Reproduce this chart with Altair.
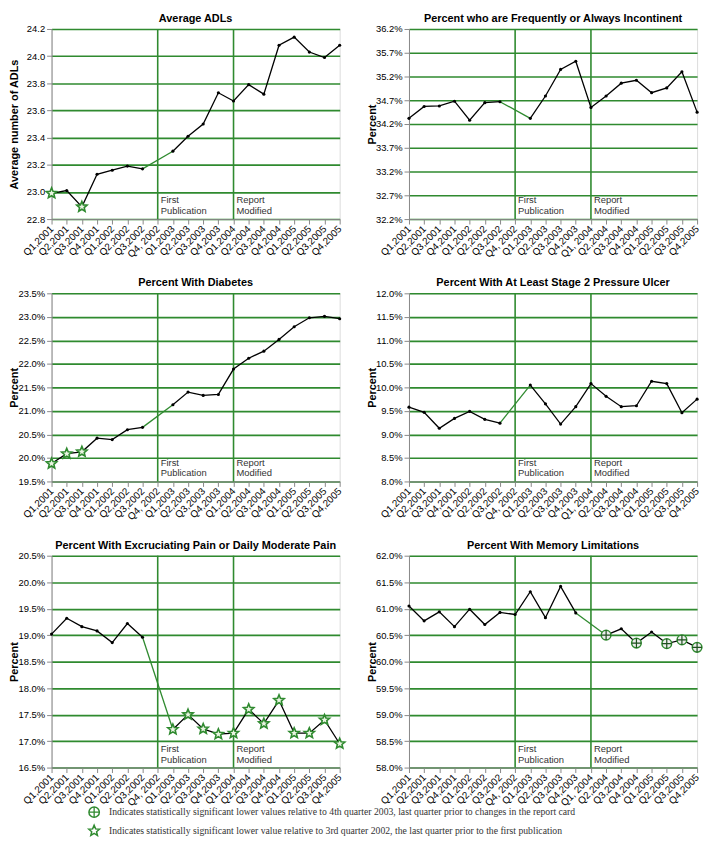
import altair as alt
import pandas as pd

# ---------------- data ----------------
QUARTERS = ["Q1,2001", "Q2,2001", "Q3,2001", "Q4,2001", "Q1,2002", "Q2,2002",
            "Q3,2002", "Q4, 2002", "Q1,2003", "Q2,2003", "Q3,2003", "Q4,2003",
            "Q1,2004", "Q2,2004", "Q3,2004", "Q4,2004", "Q1,2005", "Q2,2005",
            "Q3,2005", "Q4,2005"]
QUARTERS_SP = QUARTERS[:12] + ["Q1, 2004"] + QUARTERS[13:]

ADL = [22.99, 23.01, 22.89, 23.13, 23.16, 23.19, 23.17, None, 23.30, 23.41,
       23.50, 23.73, 23.67, 23.79, 23.72, 24.08, 24.14, 24.03, 23.99, 24.08]
ADL_STARS = [0, 2]

INCONT = [34.32, 34.57, 34.58, 34.68, 34.28, 34.65, 34.67, None, 34.32, 34.79,
          35.35, 35.52, 34.55, 34.79, 35.06, 35.12, 34.86, 34.96, 35.30, 34.45]

DIAB = [19.88, 20.09, 20.13, 20.42, 20.39, 20.60, 20.65, None, 21.13, 21.40,
        21.33, 21.35, 21.89, 22.12, 22.27, 22.52, 22.79, 22.98, 23.01, 22.96]
DIAB_STARS = [0, 1, 2]

ULCER = [9.58, 9.47, 9.13, 9.34, 9.49, 9.32, 9.24, None, 10.05, 9.65,
         9.22, 9.59, 10.08, 9.81, 9.59, 9.61, 10.13, 10.08, 9.46, 9.75]

PAIN = [19.02, 19.32, 19.16, 19.08, 18.86, 19.22, 18.96, None, 17.22, 17.50,
        17.23, 17.13, 17.15, 17.60, 17.33, 17.77, 17.15, 17.15, 17.40, 16.95]
PAIN_STARS = [8, 9, 10, 11, 12, 13, 14, 15, 16, 17, 18, 19]

MEMORY = [61.05, 60.77, 60.94, 60.66, 60.99, 60.70, 60.93, 60.89, 61.32, 60.83,
          61.42, 60.92, None, 60.50, 60.62, 60.35, 60.56, 60.34, 60.41, 60.27]
MEMORY_PLUS = [13, 15, 17, 18, 19]

TICKS_ADL = [22.8, 23.0, 23.2, 23.4, 23.6, 23.8, 24.0, 24.2]
TICKS_INCONT = [32.2, 32.7, 33.2, 33.7, 34.2, 34.7, 35.2, 35.7, 36.2]
TICKS_DIAB = [19.5, 20.0, 20.5, 21.0, 21.5, 22.0, 22.5, 23.0, 23.5]
TICKS_ULCER = [8.0, 8.5, 9.0, 9.5, 10.0, 10.5, 11.0, 11.5, 12.0]
TICKS_PAIN = [16.5, 17.0, 17.5, 18.0, 18.5, 19.0, 19.5, 20.0, 20.5]
TICKS_MEMORY = [58.0, 58.5, 59.0, 59.5, 60.0, 60.5, 61.0, 61.5, 62.0]

LEGEND_TEXT = [
    "Indicates statistically significant lower values relative to 4th quarter 2003, last quarter prior to changes in the report card",
    "Indicates statistically significant lower value relative to 3rd quarter 2002, the last quarter prior to the first publication",
]

# ---------------- style ----------------
GREEN = "#2f8a2f"
STAR = ("M0,-1L0.265,-0.364L0.951,-0.309L0.428,0.139L0.588,0.809L0,0.45"
        "L-0.588,0.809L-0.428,0.139L-0.951,-0.309L-0.265,-0.364Z")
PLUS = "M-1,0L1,0M0,-1L0,1"
W = 291
FONT = "Liberation Sans"


def panel(title, values, labels, ticks, ytitle, pct, height, stars=(), pluses=(),
          legend=False):
    seg, s = [], 0
    for v in values:
        if v is None:
            s += 1
        seg.append(s)
    df = pd.DataFrame({"q": labels, "v": values, "seg": seg})
    gap = values.index(None)
    bridge = df.iloc[[gap - 1, gap + 1]]

    if pct:
        lab = "format(datum.value, '.1f') + '%'"
    else:
        lab = "format(datum.value, '.1f')"

    xenc = alt.X("q:O", sort=labels,
                 scale=alt.Scale(domain=labels, type="point", padding=0),
                 axis=alt.Axis(title=None, labelAngle=-45, grid=False,
                               labelFontSize=10, labelPadding=3,
                               labelAlign="right", labelBaseline="middle",
                               labelOverlap=False))
    yenc = alt.Y("v:Q",
                 scale=alt.Scale(domain=[ticks[0], ticks[-1]], nice=False, zero=False),
                 axis=alt.Axis(values=ticks, labelExpr=lab, title=ytitle,
                               grid=True, gridColor=GREEN, gridWidth=1.6,
                               labelFontSize=9.5, titlePadding=2,
                               labelOverlap=False, minExtent=30, maxExtent=30))

    ann = pd.DataFrame({"q": [labels[7], labels[12]],
                        "t": ["First\nPublication", "Report\nModified"],
                        "v": [ticks[0], ticks[0]]})

    rules = alt.Chart(ann).mark_rule(color=GREEN, strokeWidth=1.6).encode(x=xenc)
    base = alt.Chart(df.dropna(subset=["v"]))
    line = base.mark_line(color="black", strokeWidth=1.3).encode(
        x=xenc, y=yenc, detail="seg:N")
    green = alt.Chart(bridge).mark_line(color=GREEN, strokeWidth=1.3).encode(
        x=xenc, y=yenc)
    dots = base.mark_point(filled=True, color="black", size=10, opacity=1).encode(
        x=xenc, y=yenc)
    texts = alt.Chart(ann).mark_text(align="left", baseline="bottom", dx=3, dy=-14,
                                     lineBreak="\n", font=FONT, fontSize=9.5,
                                     color="#333333", lineHeight=11).encode(
        x=xenc, y=yenc, text="t:N")

    layers = [rules, line, green, dots, texts]

    if stars:
        sdf = df.iloc[list(stars)]
        layers.append(alt.Chart(sdf).mark_point(
            shape=STAR, filled=True, color="#eaf4e2", stroke=GREEN,
            strokeWidth=1.6, size=120, opacity=1).encode(x=xenc, y=yenc))
    if pluses:
        pdf = df.iloc[list(pluses)]
        layers.append(alt.Chart(pdf).mark_point(
            shape="circle", filled=True, color="#ececec", stroke=GREEN,
            strokeWidth=1.5, size=95, opacity=1).encode(x=xenc, y=yenc))
        layers.append(alt.Chart(pdf).mark_point(
            shape=PLUS, filled=False, stroke="#1d4f1d",
            strokeWidth=1.2, size=95, opacity=1).encode(x=xenc, y=yenc))

    if legend:
        # footnote legend placed below this panel
        l0 = pd.DataFrame({"t": [LEGEND_TEXT[0]]})
        l1 = pd.DataFrame({"t": [LEGEND_TEXT[1]]})
        y0 = height + 45
        y1 = height + 64
        layers += [
            alt.Chart(l0).mark_point(shape="circle", filled=True, color="#ffffff",
                                     stroke=GREEN, strokeWidth=1.5, size=110,
                                     opacity=1).encode(x=alt.value(43), y=alt.value(y0)),
            alt.Chart(l0).mark_point(shape=PLUS, filled=False, stroke=GREEN,
                                     strokeWidth=1.3, size=110,
                                     opacity=1).encode(x=alt.value(43), y=alt.value(y0)),
            alt.Chart(l1).mark_point(shape=STAR, filled=True, color="#ffffff",
                                     stroke=GREEN, strokeWidth=1.5, size=130,
                                     opacity=1).encode(x=alt.value(43), y=alt.value(y1)),
            alt.Chart(l0).mark_text(align="left", baseline="middle",
                                    font="Liberation Serif", fontSize=9.8,
                                    color="#333333").encode(
                x=alt.value(58), y=alt.value(y0), text="t:N"),
            alt.Chart(l1).mark_text(align="left", baseline="middle",
                                    font="Liberation Serif", fontSize=9.8,
                                    color="#333333").encode(
                x=alt.value(58), y=alt.value(y1), text="t:N"),
        ]

    return alt.layer(*layers).properties(
        width=W, height=height,
        title=alt.TitleParams(title, fontSize=11, fontWeight="bold", font=FONT,
                              anchor="middle", frame="group", offset=0,
                              color="black"))


p1 = panel("Average ADLs", ADL, QUARTERS, TICKS_ADL, "Average number of ADLs",
           False, 192, stars=ADL_STARS)
p2 = panel("Percent who are Frequently or Always Incontinent", INCONT, QUARTERS_SP,
           TICKS_INCONT, "Percent", True, 192)
p3 = panel("Percent With Diabetes", DIAB, QUARTERS, TICKS_DIAB, "Percent",
           True, 190, stars=DIAB_STARS)
p4 = panel("Percent With At Least Stage 2 Pressure Ulcer", ULCER, QUARTERS_SP,
           TICKS_ULCER, "Percent", True, 190)
p5 = panel("Percent With Excruciating Pain or Daily Moderate Pain", PAIN, QUARTERS,
           TICKS_PAIN, "Percent", True, 214, stars=PAIN_STARS, legend=True)
p6 = panel("Percent With Memory Limitations", MEMORY, QUARTERS_SP, TICKS_MEMORY,
           "Percent", True, 214, pluses=MEMORY_PLUS)

chart = alt.concat(p1, p2, p3, p4, p5, p6, columns=2, bounds="flush",
                   spacing=alt.RowColnumber(row=75, column=70)).properties(
    padding={"left": 0, "top": 0, "right": 0, "bottom": 0}
).configure_view(
    fill="#c0c0c0", stroke=GREEN, strokeWidth=1.6
).configure_axis(
    labelFont=FONT, titleFont=FONT, labelColor="#333333", titleColor="black",
    titleFontSize=12, titleFontWeight="bold", gridColor=GREEN, gridWidth=1.6,
    gridOpacity=1, domain=False, tickColor="#444444", tickSize=3
).configure(background="white")

chart.save("out.html", embed_options={"renderer": "svg", "actions": False})
